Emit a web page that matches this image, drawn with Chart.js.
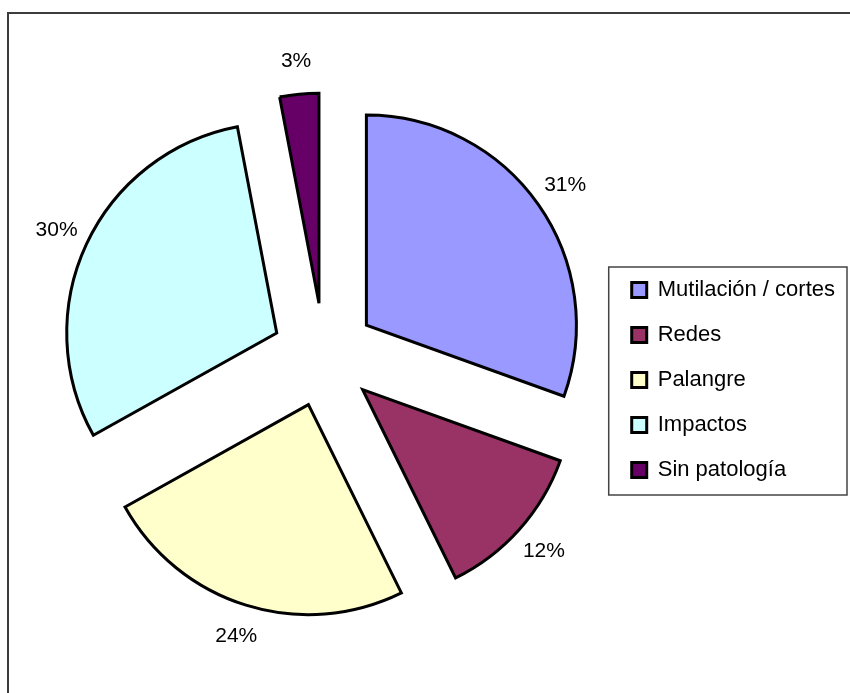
<!DOCTYPE html>
<html>
<head>
<meta charset="utf-8">
<script src="https://cdn.jsdelivr.net/npm/chart.js@4"></script>
<style>
  html, body { margin: 0; padding: 0; background: #fff; overflow: hidden; }
  #frame { position: absolute; left: 7px; top: 12px; width: 900px; height: 800px;
           border: 2px solid #3c3c3c; box-sizing: border-box; }
  #wrap { position: absolute; left: 0; top: 0; width: 850px; height: 693px; }
</style>
</head>
<body>
<div id="frame"></div>
<div id="wrap"><canvas id="pathChart" width="850" height="693"></canvas></div>
<script>
// data (percent of cases)
const categories = ['Mutilación / cortes', 'Redes', 'Palangre', 'Impactos', 'Sin patología'];
const values = [30.5, 12.2, 24.2, 30.1, 3.0];
const colors = ['#9999FF', '#993366', '#FFFFCC', '#CCFFFF', '#660066'];

const EXPLODE = 52;     // distance each slice is pulled out
const LABEL_GAP = 33;   // percent label distance past the rim

Chart.defaults.font.family = "'Liberation Sans', Arial, sans-serif";
Chart.defaults.color = '#000';

// pull every slice away from the centre along its mid angle
const explode = {
  id: 'explode',
  afterDatasetUpdate(chart, args) {
    chart.getDatasetMeta(args.index).data.forEach(arc => {
      const mid = (arc.startAngle + arc.endAngle) / 2;
      arc.x += Math.cos(mid) * EXPLODE;
      arc.y += Math.sin(mid) * EXPLODE;
    });
  }
};

// percentage outside each slice
const pctLabels = {
  id: 'pctLabels',
  afterDatasetsDraw(chart) {
    const ctx = chart.ctx;
    const meta = chart.getDatasetMeta(0);
    const total = values.reduce((a, b) => a + b, 0);
    ctx.save();
    ctx.font = "21px 'Liberation Sans', Arial, sans-serif";
    ctx.fillStyle = '#000';
    ctx.textAlign = 'center';
    ctx.textBaseline = 'middle';
    meta.data.forEach((arc, i) => {
      const mid = (arc.startAngle + arc.endAngle) / 2;
      const r = arc.outerRadius + LABEL_GAP;
      ctx.fillText(Math.round(values[i] / total * 100) + '%',
        arc.x + Math.cos(mid) * r, arc.y + Math.sin(mid) * r);
    });
    ctx.restore();
  }
};

// frame round the legend
const legendFrame = {
  id: 'legendFrame',
  afterDraw(chart) {
    const lg = chart.legend;
    const hb = lg.legendHitBoxes;
    if (!hb || !hb.length) return;
    const last = hb[hb.length - 1];
    const right = Math.max(...hb.map(h => h.left + h.width)) + 12;
    const top = hb[0].top - 12;
    const ctx = chart.ctx;
    ctx.save();
    ctx.strokeStyle = '#444';
    ctx.lineWidth = 1.5;
    ctx.strokeRect(lg.left, top, right - lg.left, last.top + last.height + 14 - top);
    ctx.restore();
  }
};

new Chart(document.getElementById('pathChart'), {
  type: 'pie',
  data: {
    labels: categories,
    datasets: [{
      data: values,
      backgroundColor: colors,
      borderColor: '#000',
      borderWidth: 3,
      borderJoinStyle: 'miter',
      clip: false
    }]
  },
  options: {
    responsive: false,
    animation: false,
    radius: 210,
    layout: { padding: { left: 39, right: 5, top: 206, bottom: 189 } },
    plugins: {
      legend: {
        position: 'right',
        align: 'end',
        labels: {
          boxWidth: 15,
          boxHeight: 15,
          padding: 23,
          font: { size: 22 },
          color: '#000'
        }
      },
      tooltip: { enabled: false }
    }
  },
  plugins: [explode, pctLabels, legendFrame]
});
</script>
</body>
</html>
